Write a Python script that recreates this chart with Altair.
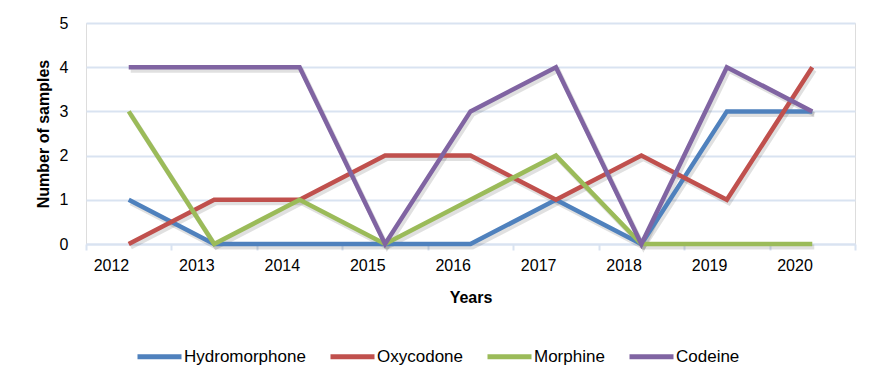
import altair as alt
import pandas as pd

years = ["2012", "2013", "2014", "2015", "2016", "2017", "2018", "2019", "2020"]
series_names = ["Hydromorphone", "Oxycodone", "Morphine", "Codeine"]
hydromorphone = [1, 0, 0, 0, 0, 1, 0, 3, 3]
oxycodone = [0, 1, 1, 2, 2, 1, 2, 1, 4]
morphine = [3, 0, 1, 0, 1, 2, 0, 0, 0]
codeine = [4, 4, 4, 0, 3, 4, 0, 4, 3]
colors = ["#4f81bd", "#c0504d", "#9bbb59", "#8064a2"]

values = [hydromorphone, oxycodone, morphine, codeine]
rows = []
for name, vals in zip(series_names, values):
    for y, v in zip(years, vals):
        rows.append({"Year": y, "Drug": name, "Count": v})
df = pd.DataFrame(rows)

FONT = "Liberation Sans"
GRID = "#d9e3f1"

x_enc = alt.X(
    "Year:O",
    sort=years,
    scale=alt.Scale(type="band", paddingInner=0, paddingOuter=0),
    axis=alt.Axis(
        title="Years",
        labelAngle=0,
        tickBand="extent",
        tickSize=6,
        tickColor=GRID,
        tickWidth=2,
        domainColor=GRID,
        domainWidth=2,
        labelFontSize=16,
        labelColor="#000000",
        labelPadding=15,
        labelFont=FONT,
        titleFont=FONT,
        titleFontSize=16,
        titleFontWeight="bold",
        titleColor="#000000",
        titlePadding=16,
        grid=False,
    ),
)
y_enc = alt.Y(
    "Count:Q",
    scale=alt.Scale(domain=[0, 5], nice=False),
    axis=alt.Axis(
        title="Number of samples",
        values=[0, 1, 2, 3, 4, 5],
        format="d",
        domain=False,
        ticks=False,
        grid=True,
        gridColor=GRID,
        gridWidth=2,
        labelFontSize=16,
        labelColor="#000000",
        labelPadding=18,
        labelFont=FONT,
        titleFont=FONT,
        titleFontSize=16,
        titleFontWeight="bold",
        titleColor="#000000",
        titlePadding=8,
    ),
)

shadow = alt.Chart(df).mark_line(
    strokeWidth=5, color="#000000", opacity=0.12, xOffset=2, yOffset=3
).encode(
    x=alt.X("Year:O", sort=years, scale=alt.Scale(type="band", paddingInner=0, paddingOuter=0)),
    y=alt.Y("Count:Q"),
    detail="Drug:N",
)

lines = alt.Chart(df).mark_line(strokeWidth=4.5).encode(
    x=x_enc,
    y=y_enc,
    color=alt.Color(
        "Drug:N",
        scale=alt.Scale(domain=series_names, range=colors),
        legend=alt.Legend(
            title=None,
            orient="none",
            direction="horizontal",
            legendX=49,
            legendY=309,
            symbolType="stroke",
            symbolStrokeWidth=5,
            symbolSize=1936,
            labelFont=FONT,
            labelFontSize=17,
            labelColor="#000000",
            labelOffset=0,
            columnPadding=14,
            labelLimit=300,
        ),
    ),
)

chart = (
    alt.layer(shadow, lines)
    .properties(
        width=769,
        height=221,
        autosize=alt.AutoSizeParams(type="none"),
        padding={"left": 78, "top": 15, "right": 14, "bottom": 126},
    )
    .configure_view(stroke=None)
    .configure(background="white")
)

chart.save("out.html", embed_options={"renderer": "svg", "actions": False})
